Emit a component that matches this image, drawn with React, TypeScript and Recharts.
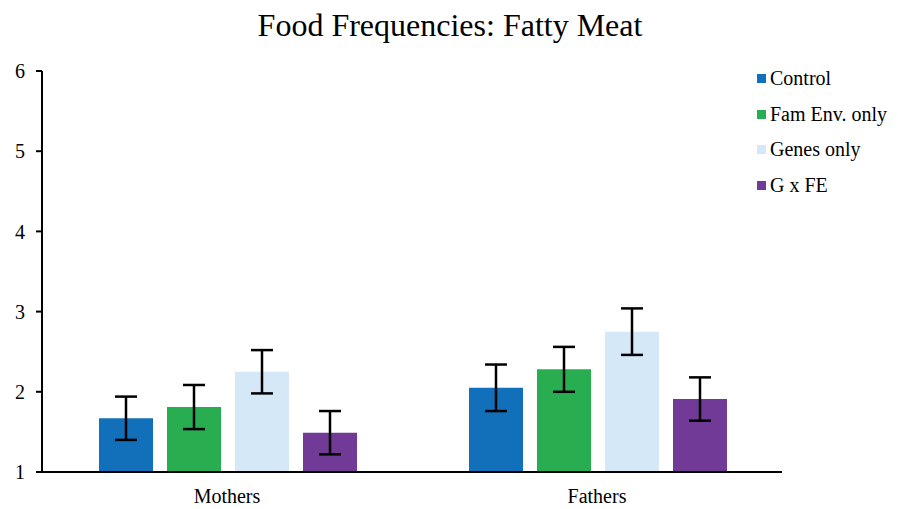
import { BarChart, Bar, XAxis, YAxis, ErrorBar, Legend } from 'recharts'

const groups = ['Mothers', 'Fathers']
const control = [1.67, 2.05]
const controlErr = [0.27, 0.29]
const famEnv = [1.81, 2.28]
const famEnvErr = [0.275, 0.28]
const genes = [2.25, 2.75]
const genesErr = [0.27, 0.29]
const gxfe = [1.49, 1.91]
const gxfeErr = [0.27, 0.27]
const yTicks = [1, 2, 3, 4, 5, 6]

const series = [
  { key: 'control', name: 'Control', color: '#1170B9' },
  { key: 'famEnv', name: 'Fam Env. only', color: '#28AE50' },
  { key: 'genes', name: 'Genes only', color: '#D4E8F7' },
  { key: 'gxfe', name: 'G x FE', color: '#703A96' },
]

const data = groups.map((group, i) => ({
  group,
  control: control[i],
  controlErr: controlErr[i],
  famEnv: famEnv[i],
  famEnvErr: famEnvErr[i],
  genes: genes[i],
  genesErr: genesErr[i],
  gxfe: gxfe[i],
  gxfeErr: gxfeErr[i],
}))

const FONT = '"Liberation Serif", "Times New Roman", serif'

function LegendList() {
  return (
    <div style={{ fontFamily: FONT, fontSize: 20, color: '#000' }}>
      {series.map((s) => (
        <div key={s.key} style={{ display: 'flex', alignItems: 'center', height: 35.5 }}>
          <span style={{ width: 9, height: 9, background: s.color, marginRight: 4, display: 'inline-block' }} />
          <span>{s.name}</span>
        </div>
      ))}
    </div>
  )
}

export default function App() {
  return (
    <div style={{ position: 'absolute', left: 0, top: 0, width: 898, height: 509, background: '#fff' }}>
      <div
        style={{
          position: 'absolute',
          left: 0,
          width: 900,
          top: 6,
          textAlign: 'center',
          fontFamily: FONT,
          fontSize: 32,
          lineHeight: '38px',
          color: '#000',
        }}
      >
        Food Frequencies: Fatty Meat
      </div>
      <BarChart
        width={898}
        height={509}
        data={data}
        margin={{ top: 71, right: 116, bottom: 7, left: 0 }}
        barCategoryGap={57}
        barGap={14}
      >
        <XAxis
          dataKey="group"
          axisLine={{ stroke: '#000', strokeWidth: 2 }}
          tickLine={false}
          tickSize={0}
          tickMargin={17}
          height={30}
          tick={{ fill: '#000', fontSize: 20, fontFamily: FONT }}
        />
        <YAxis
          domain={[1, 6]}
          ticks={yTicks}
          width={42}
          axisLine={{ stroke: '#000', strokeWidth: 2 }}
          tickLine={{ stroke: '#000', strokeWidth: 2 }}
          tickSize={6}
          tickMargin={11}
          tick={{ fill: '#000', fontSize: 20, fontFamily: FONT }}
        />
        <Legend
          layout="vertical"
          align="center"
          verticalAlign="middle"
          wrapperStyle={{ left: 757, top: 61, width: 141 }}
          content={() => <LegendList />}
        />
        {series.map((s) => (
          <Bar key={s.key} dataKey={s.key} name={s.name} fill={s.color} isAnimationActive={false}>
            <ErrorBar dataKey={`${s.key}Err`} width={11} stroke="#000" strokeWidth={2.5} direction="y" />
          </Bar>
        ))}
      </BarChart>
    </div>
  )
}
